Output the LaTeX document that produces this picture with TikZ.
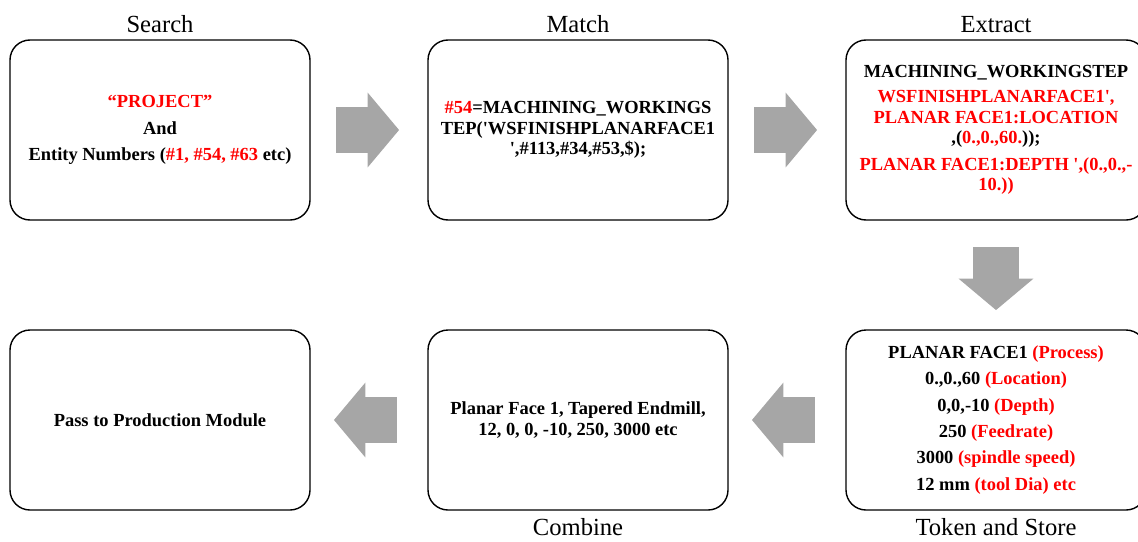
\documentclass[tikz,border=0pt]{standalone}
\usepackage{fontspec}
\setmainfont{Liberation Serif}
\usetikzlibrary{shapes.arrows,calc}
\definecolor{arrowgray}{RGB}{166,166,166}
\definecolor{textred}{RGB}{255,0,0}
\newcommand{\rd}[1]{\textcolor{textred}{#1}}

\begin{document}
\begin{tikzpicture}
          [font=\bfseries\fontsize{10.5}{15}\selectfont,
          box/.style={shape=rectangle,rounded corners=0.4cm,draw=black,fill=white,text=black,minimum width=6cm,minimum height=3.6cm,align=center,thick},
          blockarrow/.style={single arrow,fill=arrowgray,draw=none,inner xsep=0pt,inner ysep=0.45cm,minimum height=1.26cm,single arrow head extend=0.29cm,single arrow tip angle=100,anchor=tail},
          title/.style={font=\mdseries\fontsize{14}{16}\selectfont}]

            \useasboundingbox (0,0) rectangle (22.76,-10.82);

            \node (1) [box,label={[title]above:Search}] at (3.2,-2.6)
              {\rd{“PROJECT”}\\And\\Entity Numbers (\rd{\#1, \#54, \#63} etc)};
            \node (2) [box,label={[title]above:Match},font=\bfseries\fontsize{10.5}{11.5}\selectfont] at (11.56,-2.6)
              {\rd{\#54}=MACHINING\_WORKINGS\\TEP(\textquotesingle WSFINISHPLANARFACE1\\\textquotesingle,\#113,\#34,\#53,\$);};
            \node (3) [box,label={[title]above:Extract},font=\bfseries\fontsize{10.5}{11.5}\selectfont] at (19.92,-2.6)
              {MACHINING\_WORKINGSTEP\\[3pt]
               \rd{WSFINISHPLANARFACE1\textquotesingle,}\\
               \rd{PLANAR FACE1:LOCATION}\\
               ,(\rd{0.,0.,60.}));\\[4pt]
               \rd{PLANAR FACE1:DEPTH \textquotesingle,(0.,0.,-}\\
               \rd{10.))}};
            \node (4) [box,label={[title,label distance=0.03cm]below:Token and Store}] at (19.92,-8.4)
              {PLANAR FACE1 \rd{(Process)}\\0.,0.,60 \rd{(Location)}\\0,0,-10 \rd{(Depth)}\\250 \rd{(Feedrate)}\\3000 \rd{(spindle speed)}\\12 mm \rd{(tool Dia) etc}};
            \node (5) [box,label={[title,label distance=0.03cm]below:Combine},font=\bfseries\fontsize{10.5}{11.5}\selectfont] at (11.56,-8.4)
              {Planar Face 1, Tapered Endmill,\\12, 0, 0, -10, 250, 3000 etc};
            \node (6) [box] at (3.2,-8.4) {Pass to Production Module};

            % block arrows between the steps
            \node (a12) [blockarrow] at ($(1.east)+(0.5,0)$) {};
            \node (a23) [blockarrow] at ($(2.east)+(0.5,0)$) {};
            \node (a34) [blockarrow,rotate=-90] at ($(3.south)+(0,-0.52)$) {};
            \node (a45) [blockarrow,rotate=180] at ($(4.west)+(-0.6,0)$) {};
            \node (a56) [blockarrow,rotate=180] at ($(5.west)+(-0.6,0)$) {};

        \end{tikzpicture}
\end{document}
